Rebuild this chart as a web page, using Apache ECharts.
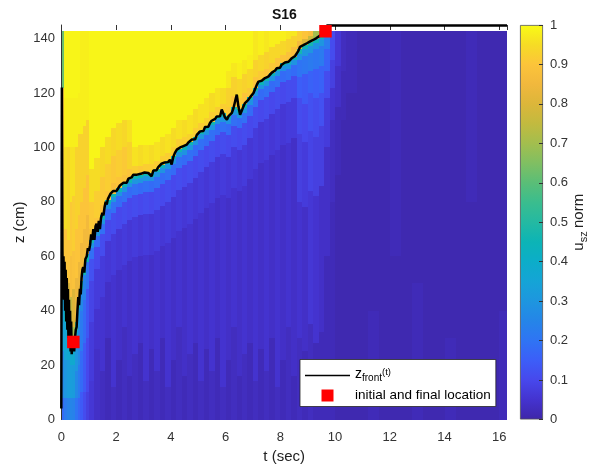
<!DOCTYPE html>
<html>
<head>
<meta charset="utf-8">
<script src="https://cdn.jsdelivr.net/npm/echarts@6/dist/echarts.min.js"></script>
<style>
  html, body { margin: 0; padding: 0; background: #fff; }
  #chart { width: 600px; height: 472px; }
</style>
</head>
<body>
<div id="chart"></div>
<script>
// ---- axis extents -------------------------------------------------------
const tMax = 16.28;      // last sample time (s)
const zTop = 142.7;      // top of the measured column (cm)
const zAxisMax = 145;

// ---- normalised field u_sz, one vertical profile per time column ----------
// colT: start time of each column; colProf: "z:value" pairs (value in %),
// each value holding from that height up to the next height (or zTop).
const colT = [
  0.0, 0.1, 0.2, 0.3, 0.4, 0.5, 0.6, 0.7, 0.8, 0.9,
  1.0, 1.2, 1.4, 1.6, 1.8, 2.0, 2.2, 2.4, 2.6, 2.8,
  3.0, 3.2, 3.4, 3.6, 3.8, 4.0, 4.2, 4.4, 4.6, 4.8,
  5.0, 5.2, 5.4, 5.6, 5.8, 6.0, 6.2, 6.4, 6.6, 6.8,
  7.0, 7.2, 7.4, 7.6, 7.8, 8.0, 8.2, 8.4, 8.6, 8.8,
  9.0, 9.2, 9.4, 9.6, 9.8, 10.0, 10.2, 10.4, 10.8, 11.2,
  11.6, 12.0, 12.4, 12.8, 13.2, 13.6, 14.0, 14.4, 14.8, 15.2,
  15.6, 16.0
];
const colProf = [
  "0:18 8:26 25:34 56:84 122:62",
  "0:22 8:30 22:36 36:44 48:80 54:90 70:95 100:98 118:99",
  "0:24 8:32 22:38 32:60 38:80 50:90 66:94 100:98 118:99",
  "0:25 8:33 20:38 26:66 32:76 45:88 60:91 80:96 100:98 118:99",
  "0:24 8:32 20:38 27:70 34:80 48:89 62:92 82:96 100:98 118:99",
  "0:20 8:26 18:30 28:36 33:55 36:84 52:90 70:93 100:98 118:99",
  "0:17 8:22 20:26 34:30 41:48 44:84 58:90 75:93 105:98 120:99",
  "0:14 10:18 25:22 40:26 48:46 51:85 65:90 80:93 105:98",
  "0:11 10:14 28:18 44:24 53:46 56:86 70:90 85:93 108:98",
  "0:8 10:10 30:13 48:20 58:45 61:86 75:90 90:93 110:98",
  "0:6 14:7 36:9 51:12 59:19 63:30 64.8:46 66:88 70:91 80:95 92:99",
  "0:4 26:5 40.5:7 55.5:10 63.5:18 67.5:29 69.3:45 70.5:90 74:92 84:95 96:99",
  "0:3 18:5 45:7 60:11 68:19 72:30 73.8:46 75:88 79:91 89:94 100:99",
  "0:2 30:4 50.5:6 65.5:10 73.5:18 77.5:29 79.3:45 80.5:90 84:92 94:95 104:99",
  "0:3 12:5 53:7 68:11 76:19 80:30 81.8:46 83:88 87:91 97:94 107:99",
  "0:2 22:4 55:6 70:10 78:18 82:29 83.8:45 85:90 89:92 99:95 109:99",
  "0:3 34:5 56.8:7 71.8:11 79.8:19 83.8:30 85.6:46 86.8:89 90:91 100:94 110:99",
  "0:2 16:4 58.3:6 73.3:10 81.3:18 85.3:29 87.1:45 88.3:90 92:93 102:96 110:99",
  "0:3 24:5 59.6:7 74.6:11 82.6:19 86.6:30 88.4:46 89.6:92 93:96 100:99",
  "0:2 28:4 60:6 75:10 83:18 87:29 88.8:45 90:91 93:95 101:99",
  "0:3 14:5 60.6:7 75.6:11 83.6:19 87.6:30 89.4:46 90.6:92 94:96 101:99",
  "0:2 26:4 60.5:6 75.5:10 83.5:18 87.5:29 89.3:45 90.5:92 94:95 101:99",
  "0:3 18:5 62:7 77:11 85:19 89:30 90.8:46 92:92 95:96 102:99",
  "0:2 30:4 63.6:6 78.6:10 86.6:18 90.6:29 92.4:45 93.6:92 97:95 104:99",
  "0:3 12:5 65:7 80:11 88:19 92:30 93.8:46 95:92 98:96 105:99",
  "0:2 22:4 66.8:6 81.8:10 89.8:18 93.8:29 95.6:45 96.8:92 100:95 107:99",
  "0:3 34:5 69.4:7 84.4:11 92.4:19 96.4:30 98.2:46 99.4:92 103:96 110:99",
  "0:2 16:4 70.4:6 85.4:10 93.4:18 97.4:29 99.2:45 100.4:92 104:95 110:99",
  "0:3 24:5 72:7 87:11 95:19 99:30 100.8:46 102:93 105:96 112:99",
  "0:2 28:4 73.8:6 88.8:10 96.8:18 100.8:29 102.6:45 103.8:92 107:95 114:99",
  "0:3 14:5 76:7 91:11 99:19 103:30 104.8:46 106:92 109:96 116:99",
  "0:2 26:4 77.7:6 92.7:10 100.7:18 104.7:29 106.5:45 107.7:93 111:96 118:99",
  "0:3 18:5 79.5:7 94.5:11 102.5:19 106.5:30 108.3:46 109.5:92 113:95 120:99",
  "0:2 30:4 81.5:6 96.5:10 104.5:18 108.5:29 110.3:45 111.5:92 115:96 122:99",
  "0:3 12:5 82.5:7 97.5:11 105.5:19 109.5:30 111.3:46 112.5:92 116:95 122:99",
  "0:2 22:4 81.5:6 96.5:10 104.5:18 108.5:29 110.3:45 111.5:91 115:93 122:97 128:99",
  "0:3 34:5 85:7 100:11 108:19 112:30 113.8:46 115:90 119:93 126:97 131:99",
  "0:2 16:4 84:6 99:10 107:18 111:29 112.8:45 114:91 118:94 125:98 131:99",
  "0:3 24:5 85.8:7 100.8:11 108.8:19 112.8:30 114.6:46 115.8:90 120:93 127:97 132:99",
  "0:2 28:4 88.5:6 103.5:10 111.5:18 115.5:29 117.3:45 118.5:91 122:94 129:98 134:99",
  "0:3 14:5 92:7 107:11 115:19 119:30 120.8:46 122:90 126:93 132:97",
  "0:2 26:4 94.3:6 109.3:10 117.3:18 121.3:29 123.1:45 124.3:91 128:94 134:98",
  "0:3 18:5 95.5:7 110.5:11 118.5:19 122.5:30 124.3:46 125.5:90 129:93 135:97",
  "0:2 30:4 97.3:6 112.3:10 120.3:18 124.3:29 126.1:45 127.3:91 131:94 137:98",
  "0:3 12:5 99.2:7 114.2:11 122.2:19 126.2:30 128:46 129.2:90 133:94 138:98",
  "0:2 22:4 101:6 116:10 124:18 128:29 129.8:45 131:90 134:94 139:98",
  "0:3 34:5 101.8:7 116.8:11 124.8:19 128.8:30 130.6:46 131.8:89 135:93 140:97",
  "0:2 16:4 103.3:7 118.3:11 126.3:18 130.3:29 132.1:45 133.3:88 137:93 141:97",
  "0:3 30:5 80:8 105:11 118:15 126:20 132:30 134.5:47 136:86 139:92",
  "0:2 25:4 78:7 102:10 116:14 127:21 133.5:30 136:46 137.5:80 140:90",
  "0:3 35:6 84:9 106:12 120:16 128:22 134.8:30 137.3:47 138.8:76 141:88",
  "0:2 28:5 82:8 104:11 118:15 129:21 136:29 138.5:45 140:70",
  "0:2 32:4 86:8 108:12 120:16 130:22 137.3:30 139.8:44 141.3:66",
  "0:2 60:4 100:7 118:11 128:16 136:22",
  "0:2 80:3 110:5 122:8 132:11",
  "0:1 90:2 115:4 130:6",
  "0:1 110:2 128:3",
  "0:1 120:2",
  "0:1",
  "0:2 40:1",
  "0:1",
  "0:1 60:2",
  "0:1",
  "0:2 50:1",
  "0:1",
  "0:1",
  "0:2 30:1",
  "0:1",
  "0:1 80:2",
  "0:1",
  "0:1",
  "0:2 40:1"
];

// ---- detected front height z_front(t) ------------------------------------
const fT = [
  0.00, 0.02, 0.04, 0.06, 0.08, 0.10, 0.12, 0.14, 0.16, 0.18,
  0.20, 0.22, 0.24, 0.26, 0.28, 0.30, 0.32, 0.34, 0.36, 0.38,
  0.41, 0.44, 0.47, 0.50, 0.53, 0.56,
  0.59, 0.62, 0.65, 0.68, 0.71, 0.74, 0.77, 0.80, 0.84, 0.88,
  0.93, 0.97, 1.01, 1.05, 1.09, 1.13, 1.17, 1.21, 1.25, 1.29,
  1.33, 1.37, 1.41, 1.45, 1.50, 1.54, 1.58, 1.62, 1.66, 1.70,
  1.75, 1.80, 1.85, 1.90, 1.96, 2.02, 2.08, 2.14, 2.20, 2.27,
  2.33, 2.39, 2.45, 2.51, 2.57, 2.63, 2.70, 2.77, 2.84, 2.90,
  2.97, 3.04, 3.11, 3.18, 3.24, 3.30, 3.36, 3.42, 3.48, 3.54,
  3.60, 3.66, 3.72, 3.78, 3.84, 3.90, 3.97, 4.03, 4.09, 4.15,
  4.22, 4.28, 4.34, 4.40, 4.46, 4.52, 4.58, 4.64, 4.70, 4.77,
  4.83, 4.89, 4.95, 5.01, 5.07, 5.13, 5.19, 5.25, 5.31, 5.37,
  5.43, 5.49, 5.55, 5.62, 5.68, 5.74, 5.80, 5.86, 5.92, 5.98,
  6.05, 6.11, 6.17, 6.23, 6.29, 6.35, 6.41, 6.47, 6.53, 6.59,
  6.65, 6.71, 6.77, 6.83, 6.90, 6.96, 7.02, 7.08, 7.14, 7.20,
  7.26, 7.32, 7.38, 7.44, 7.50, 7.56, 7.63, 7.69, 7.75, 7.81,
  7.87, 7.93, 7.99, 8.05, 8.11, 8.17, 8.23, 8.30, 8.36, 8.42,
  8.48, 8.54, 8.60, 8.66, 8.72, 8.78, 8.84, 8.90, 8.97, 9.03,
  9.09, 9.15, 9.20, 9.26, 9.32, 9.38, 9.44, 9.50, 9.56, 9.65,
  9.70, 16.28
];
const fZ = [
  4, 122, 62, 50, 60, 44, 58, 40, 55, 36,
  52, 33, 48, 30, 44, 27, 40, 25, 36, 24,
  30, 28.5, 25, 30, 33, 34,
  40, 45, 42, 48, 46, 52, 55, 56, 54, 59,
  60, 63, 62, 64, 68, 66, 70, 66, 71, 72,
  69, 73, 70, 74, 76, 75, 78, 80, 79, 81,
  82, 83, 82.5, 84, 84.5, 84, 85, 86, 85.5, 87,
  87.6, 87, 88.5, 88, 89, 90, 89.5, 90, 89.6, 90.3,
  90, 90.8, 90.4, 90.6, 91, 89.4, 91.5, 92, 91.6, 92.8,
  93, 94, 93.6, 94.5, 95, 94.6, 95.5, 93.7, 96.5, 98,
  99.2, 98.6, 100, 99.6, 100.5, 100.2, 101, 101.8, 101.5, 102.9,
  103.5, 103, 104.6, 105.2, 105.9, 106.5, 106, 107.5, 108, 107.6,
  109, 109.8, 109.4, 110.5, 111.4, 112, 111.5, 113.9, 112.5, 111,
  110.2, 111.5, 112.2, 112.7, 114.5, 117, 119.4, 115, 112, 113.5,
  115, 116.3, 115.8, 117.5, 118.5, 119, 120, 121.5, 123, 124.2,
  123.6, 124.5, 124.9, 125.5, 125.2, 126, 126.7, 127.5, 127.2, 128.3,
  129.1, 129.6, 129.3, 130.4, 131, 131.2, 131.8, 131.5, 132.2, 132.8,
  133.2, 133.6, 134, 135.5, 137, 136.5, 137.6, 137.2, 138.3, 138,
  139, 138.8, 139.5, 139.8, 140.2, 140.7, 141, 141.4, 141.8, 142.7,
  144.8, 144.8
];

// ---- initial and final front location ------------------------------------
const markT = [0.44, 9.65];
const markZ = [28.5, 142.7];

// ---- colour map (parula) -------------------------------------------------
const parula = [
  '#3E26A8', '#4433CF', '#4748EC', '#3C5EF8', '#2F74F4', '#2585E8', '#1E96DF',
  '#15A4D6', '#0CADC9', '#0CB4B6', '#24B9A2', '#3ABD8E', '#5ABE77', '#80BF62',
  '#A3BE4E', '#C2BA3F', '#DCB63A', '#F1B83D', '#FCC43A', '#F6DC25', '#F9FB15'
];

// build the cell table [t0, t1, z0, z1, value]
const cells = [];
colT.forEach(function (t0, i) {
  const t1 = i + 1 < colT.length ? colT[i + 1] : tMax;
  const segs = colProf[i].trim().split(/\s+/).map(function (s) { return s.split(':').map(Number); });
  segs.forEach(function (s, j) {
    if (s[0] >= zTop) return;
    const z1 = j + 1 < segs.length ? Math.min(segs[j + 1][0], zTop) : zTop;
    cells.push([t0, t1, s[0], z1, s[1] / 100]);
  });
});
const frontData = fT.map(function (t, i) { return [t, fZ[i]]; });
const markData = markT.map(function (t, i) { return [t, markZ[i]]; });

function renderCell(params, api) {
  const p0 = api.coord([api.value(0), api.value(3)]);
  const p1 = api.coord([api.value(1), api.value(2)]);
  const x0 = Math.round(p0[0]), x1 = Math.round(p1[0]);
  const y0 = Math.round(p0[1]), y1 = Math.round(p1[1]);
  return {
    type: 'rect',
    shape: { x: x0, y: y0, width: x1 - x0, height: y1 - y0 },
    style: { fill: api.visual('color') }
  };
}

const FONT = "'Liberation Sans', Arial, sans-serif";
const chart = echarts.init(document.getElementById('chart'), null, { renderer: 'canvas' });

chart.setOption({
  animation: false,
  backgroundColor: '#fff',
  textStyle: { fontFamily: FONT },
  title: {
    text: 'S16', left: 272, top: 8, padding: 0,
    textStyle: { fontSize: 14, fontWeight: 'bold', color: '#111', fontFamily: FONT }
  },
  grid: [
    { left: 61.3, right: 93, top: 25, bottom: 52.5, outerBoundsMode: 'none' },
    { left: 520, top: 25, width: 23, height: 394.5, outerBoundsMode: 'none' }
  ],
  visualMap: {
    type: 'continuous', show: false, min: 0, max: 1, dimension: 4,
    seriesIndex: 0, inRange: { color: parula }
  },
  legend: {
    left: 300, top: 359.5, orient: 'vertical',
    padding: [4, 5, 4, 5], itemGap: 5, itemWidth: 45, itemHeight: 12,
    backgroundColor: '#fff', borderColor: '#262626', borderWidth: 0.8, borderRadius: 0,
    data: [
      { name: 'z_front(t)', icon: 'path://M0,0H45V1.5H0Z', itemStyle: { color: '#000' } },
      { name: 'initial and final location', icon: 'path://M0,0H10V10H0Z', itemStyle: { color: '#ff0000', opacity: 1 } }
    ],
    formatter: function (name) {
      return name === 'z_front(t)' ? '{a|z}{b|front}{c|(t)}' : name;
    },
    textStyle: {
      fontSize: 13.5, color: '#000', fontFamily: FONT,
      rich: {
        a: { fontSize: 14, lineHeight: 16, verticalAlign: 'top', fontFamily: FONT, color: '#000' },
        b: { fontSize: 10, lineHeight: 10, padding: [10, 0, 0, 0], verticalAlign: 'bottom', fontFamily: FONT, color: '#000' },
        c: { fontSize: 9.5, lineHeight: 14, verticalAlign: 'top', fontFamily: FONT, color: '#000' }
      }
    }
  },
  xAxis: [
    {
      gridIndex: 0, type: 'value', min: 0, max: tMax, interval: 2, position: 'bottom',
      axisLine: { show: false }, axisTick: { show: false }, splitLine: { show: false },
      axisLabel: { fontSize: 13, color: '#333', margin: 11, showMaxLabel: false, fontFamily: FONT },
      name: 't (sec)', nameLocation: 'middle', nameGap: 29.5, nameMoveOverlap: false,
      nameTextStyle: { fontSize: 15, lineHeight: 16, color: '#222', fontFamily: FONT }
    },
    {
      gridIndex: 0, type: 'value', min: 0, max: tMax, interval: 2, position: 'top',
      axisLine: { show: false }, splitLine: { show: false },
      axisTick: { show: true, inside: true, length: 5, lineStyle: { color: '#333' } },
      axisLabel: { show: false }
    },
    { gridIndex: 1, type: 'category', data: ['u'], show: false }
  ],
  yAxis: [
    {
      gridIndex: 0, type: 'value', min: 0, max: zAxisMax, interval: 20, z: 3,
      axisLine: { show: true, lineStyle: { color: '#333', width: 1 } },
      axisTick: { show: false }, splitLine: { show: false },
      axisLabel: { fontSize: 13, color: '#333', margin: 6.3, showMaxLabel: false, fontFamily: FONT },
      name: 'z (cm)', nameLocation: 'middle', nameRotate: 90, nameGap: 33.5, nameMoveOverlap: false,
      nameTextStyle: { fontSize: 15, lineHeight: 16, color: '#222', fontFamily: FONT }
    },
    {
      gridIndex: 1, type: 'value', min: 0, max: 1, interval: 0.1, position: 'right', z: 5,
      axisLine: { show: false }, splitLine: { show: false },
      axisTick: { show: true, inside: true, length: 4, lineStyle: { color: '#333' } },
      axisLabel: {
        fontSize: 13, color: '#333', margin: 7, fontFamily: FONT,
        formatter: function (v) { return (v === 0 || v === 1) ? String(v) : v.toFixed(1); }
      },
      name: '{u|u}{s|sz} {n|norm}', nameLocation: 'middle', nameRotate: 90, nameGap: 28.5,
      nameMoveOverlap: false,
      nameTextStyle: {
        color: '#222', fontFamily: FONT,
        rich: {
          u: { fontSize: 15, lineHeight: 18, verticalAlign: 'top', fontFamily: FONT, color: '#222' },
          s: { fontSize: 11, lineHeight: 11, padding: [9, 0, 0, 0], verticalAlign: 'bottom', fontFamily: FONT, color: '#222' },
          n: { fontSize: 15, lineHeight: 18, verticalAlign: 'top', fontFamily: FONT, color: '#222' }
        }
      }
    }
  ],
  series: [
    {
      name: 'u_sz', type: 'custom', xAxisIndex: 0, yAxisIndex: 0,
      renderItem: renderCell, data: cells,
      encode: { x: [0, 1], y: [2, 3] }, silent: true, z: 1
    },
    {
      name: 'z_front(t)', type: 'line', xAxisIndex: 0, yAxisIndex: 0,
      data: frontData, symbol: 'none', showSymbol: false, clip: false,
      lineStyle: { color: '#000', width: 2.5 }, itemStyle: { color: '#000' }, z: 3, silent: true
    },
    {
      name: 'initial and final location', type: 'scatter', xAxisIndex: 0, yAxisIndex: 0,
      data: markData, symbol: 'rect', symbolSize: 12.5,
      itemStyle: { color: '#ff0000', opacity: 1 }, z: 4, silent: true
    },
    {
      name: 'colorbar', type: 'bar', xAxisIndex: 2, yAxisIndex: 1,
      data: [1], barWidth: '100%', silent: true,
      itemStyle: {
        color: {
          type: 'linear', x: 0, y: 1, x2: 0, y2: 0,
          colorStops: parula.map(function (c, i) { return { offset: i / (parula.length - 1), color: c }; })
        },
        borderColor: '#555', borderWidth: 0.8
      }
    }
  ]
});
</script>
</body>
</html>
